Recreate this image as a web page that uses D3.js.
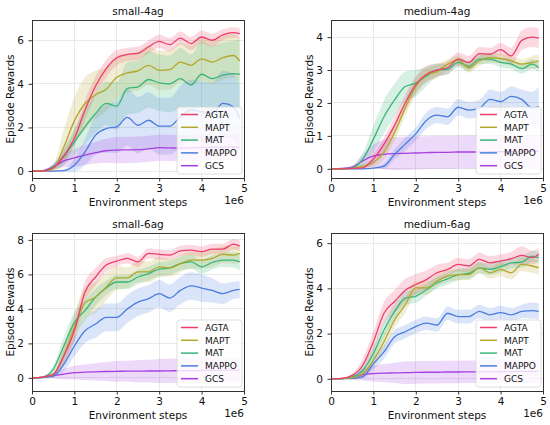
<!DOCTYPE html>
<html>
<head>
<meta charset="utf-8">
<style>
body { margin: 0; background: #fff; }
svg text { font-family: "DejaVu Sans", sans-serif; fill: #111; }
.grid line { stroke: #e3e3e3; stroke-width: 0.8; shape-rendering: crispEdges; }
.axis path.domain { display: none; }
.axis line { stroke: #333; }
.axis text { font-size: 10.5px; }
.frame { fill: none; stroke: #333; stroke-width: 1; shape-rendering: crispEdges; }
.legend text { font-size: 9px; }
</style>
</head>
<body>
<svg width="550" height="425"></svg>
<script src="https://d3js.org/d3.v7.min.js"></script>
<script>

// environment steps (x1e6)
var steps = [0, 0.25, 0.5, 0.75, 1, 1.25, 1.5, 1.75, 2, 2.25, 2.5, 2.75, 3, 3.25, 3.5, 3.75, 4, 4.25, 4.5, 4.75, 4.9];
var methods = ["AGTA", "MAPT", "MAT", "MAPPO", "GCS"];
var colors = ["#ee3d6b", "#b3a729", "#36b678", "#4a7ddf", "#a63fdf"];
var titles = ["small-4ag", "medium-4ag", "small-6ag", "medium-6ag"];
var xTicks = [0, 1, 2, 3, 4, 5];

// small-4ag
var small4agMean = {
  AGTA:  [0, 0, 0.15, 0.7, 1.5, 2.8, 3.9, 4.7, 5.2, 5.35, 5.4, 5.7, 5.95, 5.8, 6.1, 5.85, 6.15, 6.0, 6.25, 6.35, 6.3],
  MAPT:  [0, 0, 0.1, 1.1, 2.3, 3.1, 3.5, 3.75, 4.3, 4.5, 4.6, 4.85, 4.62, 4.65, 5.0, 4.85, 5.15, 5.0, 5.2, 5.3, 5.04],
  MAT:   [0, 0, 0.2, 0.66, 1.34, 2.03, 2.64, 3.1, 2.98, 3.79, 3.86, 4.2, 4.05, 4.0, 4.24, 3.94, 4.44, 4.24, 4.4, 4.47, 4.44],
  MAPPO: [0, 0, 0, 0.02, 0.27, 0.88, 1.65, 1.95, 2.03, 2.46, 2.1, 2.33, 2.06, 2.06, 2.49, 2.8, 2.72, 2.64, 3.1, 2.95, 2.41],
  GCS:   [0, 0.02, 0.2, 0.47, 0.6, 0.73, 0.84, 0.93, 0.96, 0.97, 0.98, 1.02, 1.07, 1.06, 1.05, 1.06, 1.08, 1.09, 1.1, 1.1, 1.1]
};
var small4agSpread = {
  AGTA:  [0, 0, 0.08, 0.25, 0.35, 0.45, 0.45, 0.4, 0.35, 0.3, 0.3, 0.3, 0.3, 0.3, 0.3, 0.3, 0.3, 0.3, 0.25, 0.25, 0.25],
  MAPT:  [0, 0, 0.15, 0.8, 1.1, 1.2, 1.1, 1.0, 1.0, 0.9, 0.9, 0.9, 0.9, 0.9, 0.9, 0.9, 1.0, 1.0, 1.0, 1.0, 1.0],
  MAT:   [0, 0, 0.12, 0.4, 0.6, 0.8, 0.9, 1.0, 1.1, 1.2, 1.2, 1.3, 1.3, 1.3, 1.4, 1.4, 1.5, 1.5, 1.5, 1.5, 1.6],
  MAPPO: [0, 0, 0.01, 0.05, 0.3, 0.6, 0.9, 1.1, 1.2, 1.3, 1.3, 1.3, 1.3, 1.3, 1.4, 1.4, 1.4, 1.4, 1.5, 1.5, 1.5],
  GCS:   [0, 0.02, 0.15, 0.3, 0.4, 0.45, 0.5, 0.55, 0.6, 0.6, 0.6, 0.6, 0.6, 0.6, 0.6, 0.6, 0.6, 0.6, 0.6, 0.6, 0.6]
};

// medium-4ag
var medium4agMean = {
  AGTA:  [0, 0, 0.01, 0.03, 0.3, 0.75, 1.32, 2.0, 2.56, 2.87, 3.0, 3.07, 3.33, 3.23, 3.5, 3.48, 3.62, 3.43, 3.9, 4.0, 3.97],
  MAPT:  [0, 0, 0.01, 0.08, 0.19, 0.5, 1.1, 1.85, 2.5, 2.85, 2.95, 3.18, 3.3, 3.07, 3.28, 3.38, 3.35, 3.28, 3.18, 3.23, 3.28],
  MAT:   [0, 0, 0.03, 0.29, 0.9, 1.58, 2.09, 2.5, 2.6, 2.81, 3.0, 3.02, 3.23, 3.12, 3.33, 3.33, 3.23, 3.18, 3.04, 3.18, 3.07],
  MAPPO: [0, 0, 0, 0, 0.02, 0.08, 0.44, 0.75, 1.06, 1.47, 1.63, 1.58, 1.87, 1.78, 1.84, 2.11, 2.04, 2.2, 2.11, 1.84, 1.9],
  GCS:   [0, 0.01, 0.05, 0.24, 0.39, 0.44, 0.46, 0.47, 0.48, 0.49, 0.5, 0.5, 0.51, 0.51, 0.51, 0.52, 0.52, 0.52, 0.52, 0.53, 0.53]
};
var medium4agSpread = {
  AGTA:  [0, 0, 0.02, 0.05, 0.15, 0.2, 0.25, 0.25, 0.25, 0.25, 0.2, 0.2, 0.2, 0.2, 0.2, 0.2, 0.2, 0.25, 0.3, 0.3, 0.3],
  MAPT:  [0, 0, 0.02, 0.06, 0.12, 0.2, 0.25, 0.25, 0.25, 0.2, 0.2, 0.15, 0.15, 0.15, 0.15, 0.15, 0.15, 0.15, 0.15, 0.2, 0.2],
  MAT:   [0, 0, 0.05, 0.2, 0.4, 0.5, 0.5, 0.45, 0.4, 0.3, 0.2, 0.15, 0.15, 0.15, 0.15, 0.15, 0.15, 0.15, 0.15, 0.15, 0.15],
  MAPPO: [0, 0, 0, 0, 0.02, 0.08, 0.15, 0.2, 0.2, 0.25, 0.25, 0.25, 0.25, 0.25, 0.25, 0.3, 0.3, 0.3, 0.3, 0.5, 0.6],
  GCS:   [0, 0.01, 0.05, 0.2, 0.35, 0.45, 0.5, 0.5, 0.5, 0.5, 0.5, 0.5, 0.5, 0.5, 0.5, 0.5, 0.5, 0.5, 0.5, 0.5, 0.5]
};

// small-6ag
var small6agMean = {
  AGTA:  [0, 0.05, 0.2, 1.27, 2.73, 4.98, 5.85, 6.54, 6.77, 6.93, 6.73, 7.22, 7.16, 7.12, 7.36, 7.41, 7.32, 7.47, 7.47, 7.75, 7.65],
  MAPT:  [0, 0.04, 0.2, 1.3, 2.93, 4.35, 4.68, 5.27, 5.8, 5.8, 6.15, 6.15, 6.44, 6.38, 6.63, 6.83, 6.83, 6.93, 7.16, 7.12, 7.22],
  MAT:   [0, 0.05, 0.49, 1.85, 3.22, 3.9, 4.68, 5.21, 5.56, 5.56, 5.85, 6.05, 6.3, 6.38, 6.63, 6.73, 6.44, 6.69, 6.83, 6.83, 6.73],
  MAPPO: [0, 0.02, 0.1, 0.78, 1.85, 2.73, 3.12, 3.51, 3.51, 4.0, 4.39, 4.59, 4.88, 4.63, 5.07, 5.33, 5.21, 5.07, 4.88, 5.07, 5.13],
  GCS:   [0, 0.02, 0.12, 0.22, 0.3, 0.33, 0.35, 0.37, 0.38, 0.39, 0.39, 0.4, 0.4, 0.41, 0.42, 0.42, 0.43, 0.44, 0.44, 0.45, 0.45]
};
var small6agSpread = {
  AGTA:  [0, 0.02, 0.1, 0.4, 0.6, 0.6, 0.5, 0.4, 0.3, 0.3, 0.3, 0.3, 0.3, 0.3, 0.3, 0.3, 0.3, 0.3, 0.3, 0.3, 0.3],
  MAPT:  [0, 0.02, 0.1, 0.5, 0.8, 0.9, 0.9, 0.8, 0.7, 0.6, 0.6, 0.6, 0.6, 0.5, 0.5, 0.5, 0.5, 0.5, 0.5, 0.5, 0.5],
  MAT:   [0, 0.03, 0.2, 0.5, 0.6, 0.6, 0.5, 0.4, 0.4, 0.4, 0.4, 0.4, 0.4, 0.4, 0.4, 0.4, 0.4, 0.4, 0.4, 0.45, 0.5],
  MAPPO: [0, 0.02, 0.08, 0.4, 0.6, 0.7, 0.8, 0.8, 0.8, 0.8, 0.8, 0.8, 0.8, 0.8, 0.8, 0.8, 0.8, 0.7, 0.6, 0.5, 0.5],
  GCS:   [0, 0.02, 0.15, 0.3, 0.4, 0.45, 0.5, 0.55, 0.6, 0.6, 0.65, 0.65, 0.7, 0.7, 0.7, 0.7, 0.7, 0.7, 0.7, 0.7, 0.7]
};

// medium-6ag
var medium6agMean = {
  AGTA:  [0, 0.02, 0.15, 0.6, 1.64, 2.9, 3.42, 3.91, 4.17, 4.39, 4.69, 4.84, 5.06, 4.99, 5.28, 5.13, 5.21, 5.31, 5.46, 5.36, 5.51],
  MAPT:  [0, 0.01, 0.05, 0.22, 0.82, 1.64, 2.6, 3.27, 4.02, 4.02, 4.32, 4.54, 4.61, 4.61, 4.91, 4.69, 4.84, 4.69, 5.06, 4.99, 4.91],
  MAT:   [0, 0.01, 0.08, 0.37, 1.12, 2.16, 2.98, 3.57, 3.65, 3.94, 4.24, 4.42, 4.61, 4.66, 4.91, 4.84, 4.96, 5.13, 5.16, 5.43, 5.36],
  MAPPO: [0, 0, 0.02, 0.1, 0.67, 1.19, 1.86, 2.08, 2.31, 2.46, 2.38, 2.9, 2.75, 2.75, 2.98, 2.83, 2.93, 2.83, 2.98, 3.02, 2.98],
  GCS:   [0, 0.01, 0.05, 0.18, 0.23, 0.25, 0.26, 0.27, 0.28, 0.29, 0.29, 0.3, 0.3, 0.31, 0.31, 0.32, 0.32, 0.32, 0.33, 0.33, 0.33]
};
var medium6agSpread = {
  AGTA:  [0, 0.01, 0.08, 0.3, 0.45, 0.5, 0.5, 0.5, 0.45, 0.4, 0.35, 0.3, 0.3, 0.3, 0.3, 0.3, 0.3, 0.3, 0.4, 0.3, 0.3],
  MAPT:  [0, 0.01, 0.05, 0.15, 0.3, 0.35, 0.35, 0.35, 0.3, 0.3, 0.25, 0.25, 0.25, 0.25, 0.25, 0.25, 0.3, 0.3, 0.3, 0.3, 0.3],
  MAT:   [0, 0.01, 0.05, 0.2, 0.3, 0.35, 0.35, 0.3, 0.3, 0.25, 0.25, 0.25, 0.25, 0.25, 0.25, 0.25, 0.25, 0.25, 0.25, 0.25, 0.25],
  MAPPO: [0, 0, 0.02, 0.1, 0.25, 0.3, 0.3, 0.3, 0.3, 0.3, 0.3, 0.3, 0.3, 0.3, 0.3, 0.3, 0.3, 0.3, 0.3, 0.35, 0.35],
  GCS:   [0, 0.01, 0.1, 0.25, 0.35, 0.4, 0.45, 0.5, 0.5, 0.5, 0.5, 0.5, 0.5, 0.5, 0.5, 0.5, 0.5, 0.5, 0.5, 0.5, 0.5]
};

var yDomains = [[-0.32, 6.93], [-0.28, 4.52], [-0.76, 8.4], [-0.54, 6.45]];
var yTickSets = [[0, 2, 4, 6], [0, 1, 2, 3, 4], [0, 2, 4, 6, 8], [0, 2, 4, 6]];
var means = [small4agMean, medium4agMean, small6agMean, medium6agMean];
var spreads = [small4agSpread, medium4agSpread, small6agSpread, medium6agSpread];

var svg = d3.select("svg");
var colLeft = [32, 331], rowTop = [20, 233];
var pw = 212, ph = 158;

var color = d3.scaleOrdinal().domain(methods).range(colors);

titles.forEach(function(title, p) {
  var ox = colLeft[p % 2], oy = rowTop[Math.floor(p / 2)];
  var g = svg.append("g").attr("transform", "translate(" + ox + "," + oy + ")");

  var x = d3.scaleLinear().domain([0, 5]).range([0, pw]);
  var y = d3.scaleLinear().domain(yDomains[p]).range([ph, 0]);

  // gridlines
  var grid = g.append("g").attr("class", "grid");
  grid.selectAll("line.v").data(xTicks).enter().append("line")
    .attr("x1", function(d) { return x(d); }).attr("x2", function(d) { return x(d); })
    .attr("y1", 0).attr("y2", ph);
  grid.selectAll("line.h").data(yTickSets[p]).enter().append("line")
    .attr("y1", function(d) { return y(d); }).attr("y2", function(d) { return y(d); })
    .attr("x1", 0).attr("x2", pw);

  var rows = methods.map(function(m) {
    return steps.map(function(s, i) {
      return { x: s, m: means[p][m][i], s: spreads[p][m][i] };
    });
  });

  var area = d3.area()
    .x(function(d) { return x(d.x); })
    .y0(function(d) { return y(d.m - d.s); })
    .y1(function(d) { return y(d.m + d.s); })
    .curve(d3.curveMonotoneX);
  var line = d3.line()
    .x(function(d) { return x(d.x); })
    .y(function(d) { return y(d.m); })
    .curve(d3.curveMonotoneX);

  var plot = g.append("g");
  methods.forEach(function(m, i) {
    plot.append("path").datum(rows[i])
      .attr("d", area)
      .attr("fill", color(m))
      .attr("fill-opacity", 0.2)
      .attr("stroke", "none");
  });
  methods.slice().reverse().forEach(function(m) {
    var i = methods.indexOf(m);
    plot.append("path").datum(rows[i])
      .attr("d", line)
      .attr("fill", "none")
      .attr("stroke", color(m))
      .attr("stroke-width", 1.3);
  });

  // axes
  g.append("g").attr("class", "axis")
    .attr("transform", "translate(0," + ph + ")")
    .call(d3.axisBottom(x).tickValues(xTicks).tickFormat(d3.format("d")).tickSize(3.5).tickPadding(3));
  g.append("g").attr("class", "axis")
    .call(d3.axisLeft(y).tickValues(yTickSets[p]).tickFormat(d3.format("d")).tickSize(3.5).tickPadding(4.5));

  g.append("rect").attr("class", "frame")
    .attr("x", 0).attr("y", 0).attr("width", pw).attr("height", ph);

  // labels
  g.append("text").attr("x", pw / 2).attr("y", -5)
    .attr("text-anchor", "middle").style("font-size", "10.5px").text(title);
  g.append("text").attr("x", pw / 2).attr("y", ph + 28)
    .attr("text-anchor", "middle").style("font-size", "10.5px").text("Environment steps");
  g.append("text").attr("x", pw).attr("y", ph + 26)
    .attr("text-anchor", "end").style("font-size", "10.5px").text("1e6");
  g.append("text")
    .attr("transform", "translate(-18," + (ph / 2) + ") rotate(-90)")
    .attr("text-anchor", "middle").style("font-size", "10.5px").text("Episode Rewards");

  // legend
  var lw = 65, lh = 67;
  var lg = g.append("g").attr("class", "legend")
    .attr("transform", "translate(" + (pw - lw - 2) + "," + (ph - lh - 4) + ")");
  lg.append("rect").attr("width", lw).attr("height", lh).attr("rx", 2.5)
    .attr("fill", "#fff").attr("fill-opacity", 0.8)
    .attr("stroke", "#d6d6d6").attr("stroke-width", 0.8);
  var item = lg.selectAll("g.item").data(methods).enter().append("g")
    .attr("transform", function(d, i) { return "translate(0," + (7.5 + i * 12.8) + ")"; });
  item.append("line").attr("x1", 4).attr("x2", 21).attr("y1", 0).attr("y2", 0)
    .attr("stroke", function(d) { return color(d); }).attr("stroke-width", 1.5);
  item.append("text").attr("x", 28).attr("y", 3.3).text(function(d) { return d; });
});
</script>
</body>
</html>
